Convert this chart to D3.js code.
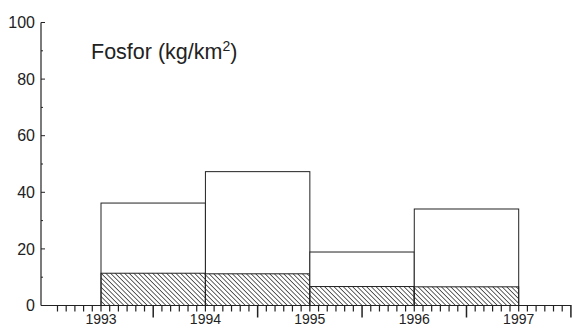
<!DOCTYPE html>
<html><head><meta charset="utf-8">
<script src="https://cdn.jsdelivr.net/npm/d3@7"></script>
<style>
html,body{margin:0;padding:0;background:#fff;}
svg{display:block;}
text{font-family:"Liberation Sans",Arial,sans-serif;fill:#222;}
</style></head>
<body>
<div id="chart"></div>
<script>
// Data
const years = [1993, 1994, 1995, 1996];
const totalValues = [36.2, 47.3, 18.9, 34.1];
const hatchedValues = [11.4, 11.2, 6.7, 6.6];
const yTickValues = [0, 20, 40, 60, 80, 100];
const yMinorTicks = [10, 30, 50, 70, 90];
const xYearLabels = [1993, 1994, 1995, 1996, 1997];
const titleMain = "Fosfor (kg/km";
const titleSup = "2";

const W = 573, H = 328;
const svg = d3.select("#chart").append("svg").attr("width", W).attr("height", H);

const x = d3.scaleLinear().domain([1993, 1997]).range([101, 518.7]);
const y = d3.scaleLinear().domain([0, 100]).range([305.5, 22.5]);
const x0 = 41, xEnd = 571.5;

// hatch pattern
const defs = svg.append("defs");
const pat = defs.append("pattern").attr("id", "hatch").attr("patternUnits", "userSpaceOnUse")
  .attr("width", 3.3).attr("height", 3.3).attr("patternTransform", "rotate(-45)");
pat.append("line").attr("x1", 0).attr("y1", 0).attr("x2", 0).attr("y2", 3.3)
  .attr("stroke", "#222").attr("stroke-width", 1.4);

const ink = "#222";

// bars
const g = svg.append("g");
years.forEach((yr, i) => {
  const xl = x(yr), xr = x(yr + 1);
  g.append("rect").attr("x", xl).attr("y", y(totalValues[i]))
    .attr("width", xr - xl).attr("height", y(0) - y(totalValues[i]))
    .attr("fill", "#fff").attr("stroke", ink).attr("stroke-width", 1);
  g.append("rect").attr("x", xl).attr("y", y(hatchedValues[i]))
    .attr("width", xr - xl).attr("height", y(0) - y(hatchedValues[i]))
    .attr("fill", "url(#hatch)").attr("stroke", ink).attr("stroke-width", 1);
});

// y axis
svg.append("line").attr("x1", x0).attr("x2", x0).attr("y1", y(100)).attr("y2", y(0))
  .attr("stroke", ink).attr("stroke-width", 1.2);
yTickValues.forEach(v => {
  svg.append("line").attr("x1", x0).attr("x2", x0 + 4).attr("y1", y(v)).attr("y2", y(v))
    .attr("stroke", ink).attr("stroke-width", 1);
  svg.append("text").attr("x", 35).attr("y", y(v)).attr("dy", "0.36em")
    .attr("text-anchor", "end").attr("font-size", 16).attr("fill", "#333").text(v);
});
yMinorTicks.forEach(v => {
  svg.append("line").attr("x1", x0).attr("x2", x0 + 2).attr("y1", y(v)).attr("y2", y(v))
    .attr("stroke", ink).attr("stroke-width", 1);
});

// x axis
const xb = y(0);
svg.append("line").attr("x1", x0).attr("x2", xEnd).attr("y1", xb).attr("y2", xb)
  .attr("stroke", ink).attr("stroke-width", 1.2);
const monthTicks = d3.range(1992 + 7/12, 1997 + 6.5/12, 1/12);
monthTicks.forEach(m => {
  const frac = Math.round((m - Math.floor(m + 1e-6)) * 12);
  const len = frac === 6 ? 12 : 6;
  svg.append("line").attr("x1", x(m)).attr("x2", x(m)).attr("y1", xb).attr("y2", xb + len)
    .attr("stroke", ink).attr("stroke-width", frac === 6 ? 1.5 : 1.2);
});
xYearLabels.forEach(yr => {
  svg.append("text").attr("x", x(yr)).attr("y", 324).attr("text-anchor", "middle")
    .attr("font-size", 14).attr("fill", "#333").text(yr);
});

// title
const t = svg.append("text").attr("x", 91).attr("y", 58.5).attr("font-size", 21.5);
t.append("tspan").text(titleMain);
t.append("tspan").attr("font-size", 14).attr("dy", -8).text(titleSup);
t.append("tspan").attr("dy", 8).text(")");
</script>
</body></html>
